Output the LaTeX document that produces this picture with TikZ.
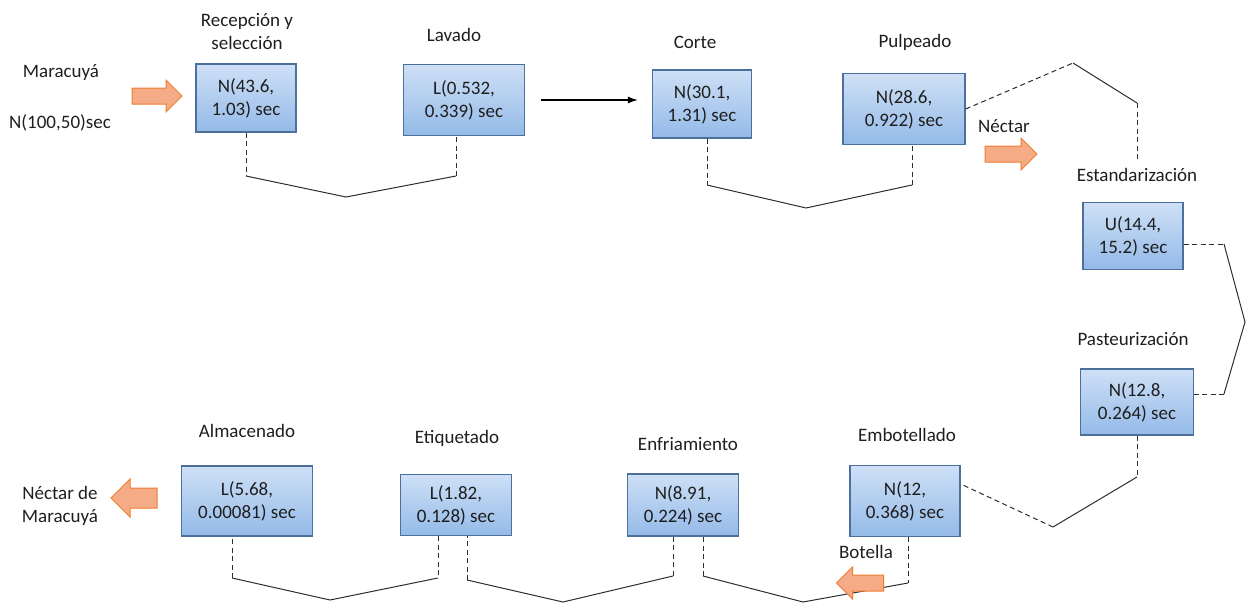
\documentclass[tikz,border=0pt]{standalone}
\usepackage{fontspec}
\setmainfont{Carlito}
\usetikzlibrary{arrows,arrows.meta,shapes.arrows}

\definecolor{boxtop}{RGB}{206,224,246}
\definecolor{boxbot}{RGB}{148,186,232}
\definecolor{boxline}{RGB}{76,111,155}
\definecolor{arrfill}{RGB}{245,172,134}
\definecolor{arrline}{RGB}{237,125,49}
\definecolor{linegray}{RGB}{45,45,45}
\definecolor{txt}{RGB}{30,30,30}

\tikzset{
  proc/.style = {draw=boxline, line width=1.3pt, top color=boxtop,
    bottom color=boxbot, align=center, inner sep=2pt},
  tag/.style = {anchor=base, align=center},
  flow/.style = {single arrow, draw=arrline, fill=arrfill, line width=1pt,
    inner xsep=0pt, inner ysep=7.5pt, single arrow head extend=8pt,
    text height=0pt, text depth=0pt},
  link/.style = {linegray, line width=1pt},
  dlink/.style = {link, dash pattern=on 5pt off 3.5pt}
}

\begin{document}
\begin{tikzpicture}[x=1pt, y=-1pt, >={Latex[length=10pt,width=7pt]}, text=txt,
    font=\fontsize{19}{23}\selectfont]
  \useasboundingbox (0,0) rectangle (1247,603);

  % boxes
  \node[proc, minimum width=100pt, minimum height=68pt] (rec) at (246,98) {N(43.6,\\1.03) sec};
  \node[proc, minimum width=121pt, minimum height=71pt] (lav) at (464,100) {L(0.532,\\0.339) sec};
  \node[proc, minimum width=99pt, minimum height=68pt] (cor) at (702,104) {N(30.1,\\1.31) sec};
  \node[proc, minimum width=122pt, minimum height=71pt] (pul) at (904,109) {N(28.6,\\0.922) sec};
  \node[proc, minimum width=100pt, minimum height=67pt] (est) at (1133,236) {U(14.4,\\15.2) sec};
  \node[proc, minimum width=113pt, minimum height=66pt] (pas) at (1137,402) {N(12.8,\\0.264) sec};
  \node[proc, minimum width=110pt, minimum height=71pt] (emb) at (905,501) {N(12,\\0.368) sec};
  \node[proc, minimum width=111pt, minimum height=62pt] (enf) at (683,505) {N(8.91,\\0.224) sec};
  \node[proc, minimum width=111pt, minimum height=61pt] (eti) at (456,505) {L(1.82,\\0.128) sec};
  \node[proc, minimum width=131pt, minimum height=70pt] (alm) at (247,501) {L(5.68,\\0.00081) sec};

  % labels
  \node[tag, anchor=center] (recl) at (247,32) {Recepción y\\selección};
  \node[tag] (lavl) at (454,41) {Lavado};
  \node[tag] (corl) at (695,48) {Corte};
  \node[tag] (pull) at (915,47) {Pulpeado};
  \node[tag] (estl) at (1137,181) {Estandarización};
  \node[tag] (pasl) at (1133,345) {Pasteurización};
  \node[tag] (embl) at (907,441) {Embotellado};
  \node[tag] (enfl) at (688,450) {Enfriamiento};
  \node[tag] (etil) at (457,443) {Etiquetado};
  \node[tag] (alml) at (247,437) {Almacenado};
  \node[tag] (fruta) at (61,77) {Maracuyá};
  \node[tag] (fdist) at (60,128) {N(100,50)sec};
  \node[tag] (nect) at (1004,132) {Néctar};
  \node[tag] (bot) at (866,558) {Botella};
  \node[tag, anchor=center] (prod) at (60,506) {Néctar de\\Maracuyá};

  \draw[->, line width=1.2pt] ([xshift=16pt]lav.east) -- ([xshift=-14pt]lav.east -| cor.west);

  % corners
  \coordinate (a1) at (246,176); \coordinate (a2) at (346,197); \coordinate (a3) at (456,176);
  \coordinate (b1) at (707,185); \coordinate (b2) at (806,208); \coordinate (b3) at (912,185);
  \coordinate (c1) at (1073,63); \coordinate (c2) at (1137,103); \coordinate (c3) at (1137,160);
  \coordinate (d1) at (1224,244); \coordinate (d2) at (1245,322); \coordinate (d3) at (1224,394);
  \coordinate (e1) at (1137,477); \coordinate (e2) at (1053,527);
  \coordinate (f1) at (908,583); \coordinate (f2) at (803,602); \coordinate (f3) at (703,576);
  \coordinate (g1) at (673,576); \coordinate (g2) at (563,602); \coordinate (g3) at (467,580);
  \coordinate (h1) at (438,578); \coordinate (h2) at (330,600); \coordinate (h3) at (232,578);

  \draw[dlink] (rec.south) -- (a1);
  \draw[link] (a1) -- (a2) -- (a3);
  \draw[dlink] (a3) -- (a3 |- lav.south);

  \draw[dlink] (b1 |- cor.south) -- (b1);
  \draw[link] (b1) -- (b2) -- (b3);
  \draw[dlink] (b3) -- (b3 |- pul.south);

  \draw[dlink] (pul.east) -- (c1);
  \draw[link] (c1) -- (c2);
  \draw[dlink] (c2) -- (c3);

  \draw[dlink] (d1 -| est.east) -- (d1);
  \draw[link] (d1) -- (d2) -- (d3);
  \draw[dlink] (d3) -- (d3 -| pas.east);

  \draw[dlink] (pas.south) -- (e1);
  \draw[link] (e1) -- (e2);
  \draw[dlink] (e2) -- ([yshift=17pt]emb.east);

  \draw[dlink] (f1 |- emb.south) -- (f1);
  \draw[link] (f1) -- (f2) -- (f3);
  \draw[dlink] (f3) -- (f3 |- enf.south);

  \draw[dlink] (g1 |- enf.south) -- (g1);
  \draw[link] (g1) -- (g2) -- (g3);
  \draw[dlink] (g3) -- (g3 |- eti.south);

  \draw[dlink] (h1 |- eti.south) -- (h1);
  \draw[link] (h1) -- (h2) -- (h3);
  \draw[dlink] (h3) -- (h3 |- alm.south);

  % orange arrows
  \node[flow, minimum height=50pt] (in1) at (153,96) {};
  \node[flow, minimum height=52pt] (in2) at (1007,154) {};
  \node[flow, minimum height=47pt, shape border rotate=180] (in3) at (864,583) {};
  \node[flow, minimum height=46pt, inner ysep=9.5pt, single arrow head extend=9pt,
    shape border rotate=180] (out) at (139,498) {};
\end{tikzpicture}
\end{document}
